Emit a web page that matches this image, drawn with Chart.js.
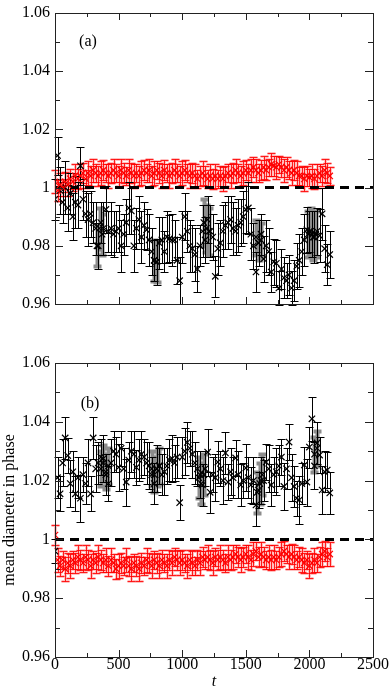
<!DOCTYPE html>
<html>
<head>
<meta charset="utf-8">
<script src="https://cdn.jsdelivr.net/npm/chart.js@4/dist/chart.umd.min.js"></script>
<style>
  body { margin: 0; background: #fff; }
  .panel { position: absolute; left: 0; }
</style>
</head>
<body>
<canvas id="panelA" class="panel" width="392" height="317" style="top:0"></canvas>
<canvas id="panelB" class="panel" width="392" height="360" style="top:330px"></canvas>
<script>
// time axis shared by all series
const times = [
  0, 20, 40, 60, 80, 100, 120, 140, 160, 180,
  200, 220, 240, 260, 280, 300, 320, 340, 360, 380,
  400, 420, 440, 460, 480, 500, 520, 540, 560, 580,
  600, 620, 640, 660, 680, 700, 720, 740, 760, 780,
  800, 820, 840, 860, 880, 900, 920, 940, 960, 980,
  1000, 1020, 1040, 1060, 1080, 1100, 1120, 1140, 1160, 1180,
  1200, 1220, 1240, 1260, 1280, 1300, 1320, 1340, 1360, 1380,
  1400, 1420, 1440, 1460, 1480, 1500, 1520, 1540, 1560, 1580,
  1600, 1620, 1640, 1660, 1680, 1700, 1720, 1740, 1760, 1780,
  1800, 1820, 1840, 1860, 1880, 1900, 1920, 1940, 1960, 1980,
  2000, 2020, 2040, 2060, 2080, 2100, 2120, 2140, 2160
];

// panel (a) black
const blackA = [
  0.996, 1.011, 0.999, 0.995, 1.000, 0.993, 0.998, 0.990, 0.995, 0.994,
  1.0075, 0.996, 0.991, 0.989, 0.991, 0.988, 0.986, 0.980, 0.988, 0.986,
  0.9925, 0.985, 0.986, 0.984, 0.985, 0.986, 0.980, 0.984, 0.988, 0.993,
  0.992, 0.980, 0.986, 0.989, 0.983, 0.987, 0.9855, 0.982, 0.978, 0.975,
  0.9745, 0.981, 0.982, 0.978, 0.983, 0.9825, 0.982, 0.982, 0.975, 0.968,
  0.983, 0.990, 0.985, 0.980, 0.979, 0.977, 0.972, 0.980, 0.985, 0.982,
  0.989, 0.985, 0.983, 0.9695, 0.979, 0.981, 0.985, 0.987, 0.988, 0.989,
  0.986, 0.985, 0.987, 0.988, 0.990, 0.9925, 0.993, 0.984, 0.980, 0.971,
  0.981, 0.984, 0.9755, 0.980, 0.978, 0.971, 0.9745, 0.974, 0.9655, 0.972,
  0.969, 0.968, 0.970, 0.9655, 0.968, 0.973, 0.975, 0.978, 0.982, 0.9855,
  0.985, 0.984, 0.983, 0.985, 0.9835, 0.991, 0.979, 0.9735, 0.977
];
const blackAErr = [
  0.007, 0.0065, 0.008, 0.007, 0.009, 0.008, 0.007, 0.008, 0.009, 0.008,
  0.0065, 0.007, 0.008, 0.009, 0.008, 0.007, 0.009, 0.008, 0.007, 0.009,
  0.008, 0.007, 0.009, 0.008, 0.007, 0.008, 0.009, 0.007, 0.008, 0.009,
  0.008, 0.009, 0.007, 0.008, 0.009, 0.008, 0.007, 0.009, 0.008, 0.007,
  0.008, 0.009, 0.008, 0.007, 0.009, 0.008, 0.009, 0.007, 0.008, 0.008,
  0.009, 0.008, 0.007, 0.009, 0.008, 0.009, 0.008, 0.007, 0.009, 0.008,
  0.008, 0.009, 0.008, 0.007, 0.009, 0.008, 0.009, 0.008, 0.009, 0.008,
  0.009, 0.008, 0.009, 0.008, 0.009, 0.008, 0.009, 0.009, 0.008, 0.007,
  0.008, 0.007, 0.008, 0.009, 0.008, 0.007, 0.008, 0.008, 0.006, 0.007,
  0.007, 0.006, 0.007, 0.006, 0.007, 0.008, 0.009, 0.008, 0.009, 0.008,
  0.007, 0.008, 0.009, 0.008, 0.009, 0.009, 0.008, 0.007, 0.008
];
// panel (a) red
const redA = [
  1.002, 0.999, 1.001, 1.000, 1.002, 1.001, 1.003, 1.002, 1.004, 1.003,
  1.004, 1.005, 1.003, 1.005, 1.004, 1.006, 1.005, 1.004, 1.005, 1.006,
  1.005, 1.004, 1.005, 1.006, 1.005, 1.004, 1.006, 1.005, 1.004, 1.006,
  1.005, 1.004, 1.005, 1.004, 1.005, 1.006, 1.005, 1.006, 1.004, 1.005,
  1.006, 1.005, 1.004, 1.006, 1.005, 1.004, 1.005, 1.006, 1.005, 1.004,
  1.005, 1.006, 1.005, 1.004, 1.005, 1.004, 1.003, 1.004, 1.005, 1.004,
  1.003, 1.004, 1.003, 1.004, 1.003, 1.004, 1.003, 1.004, 1.005, 1.004,
  1.005, 1.006, 1.005, 1.004, 1.005, 1.006, 1.005, 1.006, 1.007, 1.006,
  1.005, 1.006, 1.007, 1.006, 1.007, 1.008, 1.0075, 1.007, 1.008, 1.007,
  1.006, 1.007, 1.006, 1.005, 1.006, 1.005, 1.004, 1.004, 1.003, 1.004,
  1.0035, 1.004, 1.003, 1.004, 1.005, 1.004, 1.006, 1.005, 1.004
];
const redAErr = [
  0.004, 0.0035, 0.004, 0.003, 0.0035, 0.004, 0.0035, 0.003, 0.004, 0.0035,
  0.004, 0.0035, 0.003, 0.004, 0.0035, 0.004, 0.003, 0.0035, 0.004, 0.0035,
  0.003, 0.004, 0.0035, 0.004, 0.003, 0.0035, 0.004, 0.0035, 0.003, 0.004,
  0.0035, 0.004, 0.003, 0.0035, 0.004, 0.0035, 0.003, 0.004, 0.0035, 0.004,
  0.003, 0.0035, 0.004, 0.0035, 0.003, 0.004, 0.0035, 0.004, 0.003, 0.0035,
  0.004, 0.0035, 0.003, 0.004, 0.0035, 0.004, 0.003, 0.0035, 0.004, 0.0035,
  0.003, 0.004, 0.0035, 0.004, 0.003, 0.0035, 0.004, 0.0035, 0.003, 0.004,
  0.0035, 0.004, 0.003, 0.0035, 0.004, 0.0035, 0.003, 0.004, 0.0035, 0.004,
  0.003, 0.0035, 0.004, 0.0035, 0.003, 0.004, 0.0035, 0.004, 0.003, 0.0035,
  0.004, 0.0035, 0.003, 0.004, 0.0035, 0.004, 0.003, 0.0035, 0.004, 0.0035,
  0.003, 0.004, 0.0035, 0.004, 0.003, 0.0035, 0.004, 0.0035, 0.003
];
// panel (a) points with grey error bars
const greyATimes = [330, 350, 370, 780, 800, 1170, 1190, 1210, 1580, 1600, 1620, 1990, 2010, 2030, 2050];
const greyA = [0.980, 0.986, 0.984, 0.975, 0.9745, 0.988, 0.986, 0.985, 0.983, 0.981, 0.982, 0.984, 0.985, 0.983, 0.984];
const greyAErr = [0.007, 0.007, 0.007, 0.007, 0.007, 0.008, 0.008, 0.008, 0.006, 0.006, 0.006, 0.008, 0.008, 0.008, 0.008];

// panel (b) black
const blackB = [
  0.996, 1.021, 1.0155, 1.026, 1.0345, 1.0285, 1.019, 1.023, 1.0155, 1.021,
  1.014, 1.022, 1.019, 1.026, 1.0155, 1.0345, 1.024, 1.026, 1.028, 1.0275,
  1.022, 1.019, 1.026, 1.030, 1.029, 1.0245, 1.031, 1.024, 1.0195, 1.027,
  1.030, 1.029, 1.0245, 1.027, 1.029, 1.028, 1.026, 1.025, 1.022, 1.019,
  1.024, 1.025, 1.022, 1.023, 1.025, 1.027, 1.0275, 1.026, 1.028, 1.0125,
  1.028, 1.030, 1.033, 1.031, 1.029, 1.026, 1.024, 1.022, 1.0185, 1.024,
  1.0297, 1.016, 1.022, 1.021, 1.0263, 1.024, 1.020, 1.0294, 1.0195, 1.023,
  1.021, 1.0277, 1.022, 1.0185, 1.020, 1.0243, 1.021, 1.0185, 1.020, 1.0117,
  1.0168, 1.020, 1.020, 1.0263, 1.024, 1.0185, 1.022, 1.023, 1.025, 1.028,
  1.018, 1.024, 1.0331, 1.021, 1.018, 1.014, 1.0134, 1.019, 1.0253, 1.0195,
  1.0314, 1.041, 1.025, 1.0328, 1.0287, 1.0168, 1.023, 1.0236, 1.0158
];
const blackBErr = [
  0.004, 0.007, 0.006, 0.008, 0.007, 0.006, 0.008, 0.007, 0.006, 0.007,
  0.008, 0.006, 0.007, 0.008, 0.006, 0.007, 0.008, 0.007, 0.006, 0.008,
  0.007, 0.006, 0.008, 0.007, 0.006, 0.008, 0.006, 0.007, 0.008, 0.006,
  0.007, 0.008, 0.006, 0.007, 0.008, 0.006, 0.007, 0.008, 0.006, 0.007,
  0.008, 0.006, 0.007, 0.008, 0.006, 0.007, 0.008, 0.006, 0.007, 0.006,
  0.007, 0.008, 0.007, 0.006, 0.008, 0.007, 0.006, 0.008, 0.007, 0.006,
  0.008, 0.007, 0.006, 0.008, 0.007, 0.006, 0.008, 0.007, 0.006, 0.008,
  0.007, 0.006, 0.008, 0.007, 0.006, 0.008, 0.007, 0.006, 0.008, 0.007,
  0.006, 0.008, 0.007, 0.006, 0.008, 0.007, 0.006, 0.008, 0.007, 0.006,
  0.008, 0.007, 0.006, 0.008, 0.007, 0.006, 0.008, 0.007, 0.006, 0.008,
  0.007, 0.0075, 0.008, 0.007, 0.006, 0.008, 0.007, 0.006, 0.007
];
// panel (b) red
const redB = [
  1.0015, 0.993, 0.991, 0.993, 0.990, 0.992, 0.991, 0.993, 0.992, 0.994,
  0.993, 0.992, 0.994, 0.993, 0.991, 0.993, 0.992, 0.994, 0.993, 0.992,
  0.993, 0.991, 0.993, 0.992, 0.990, 0.991, 0.992, 0.991, 0.993, 0.991,
  0.990, 0.992, 0.991, 0.990, 0.992, 0.991, 0.993, 0.992, 0.991, 0.993,
  0.992, 0.991, 0.993, 0.992, 0.991, 0.993, 0.992, 0.994, 0.993, 0.992,
  0.993, 0.992, 0.991, 0.993, 0.992, 0.991, 0.993, 0.992, 0.994, 0.993,
  0.994, 0.993, 0.992, 0.994, 0.993, 0.994, 0.993, 0.992, 0.994, 0.993,
  0.994, 0.995, 0.994, 0.993, 0.994, 0.995, 0.994, 0.993, 0.995, 0.996,
  0.994, 0.995, 0.994, 0.993, 0.994, 0.993, 0.994, 0.993, 0.994, 0.995,
  0.996, 0.995, 0.994, 0.995, 0.994, 0.993, 0.994, 0.993, 0.992, 0.993,
  0.991, 0.992, 0.993, 0.992, 0.994, 0.995, 0.996, 0.994, 0.995
];
const redBErr = [
  0.0035, 0.004, 0.0035, 0.003, 0.004, 0.0035, 0.004, 0.003, 0.0035, 0.004,
  0.0035, 0.003, 0.004, 0.0035, 0.004, 0.003, 0.0035, 0.004, 0.0035, 0.003,
  0.004, 0.0035, 0.004, 0.003, 0.0035, 0.004, 0.0035, 0.003, 0.004, 0.0035,
  0.004, 0.003, 0.0035, 0.004, 0.0035, 0.003, 0.004, 0.0035, 0.004, 0.003,
  0.0035, 0.004, 0.0035, 0.003, 0.004, 0.0035, 0.004, 0.003, 0.0035, 0.004,
  0.0035, 0.003, 0.004, 0.0035, 0.004, 0.003, 0.0035, 0.004, 0.0035, 0.003,
  0.004, 0.0035, 0.004, 0.003, 0.0035, 0.004, 0.0035, 0.003, 0.004, 0.0035,
  0.004, 0.003, 0.0035, 0.004, 0.0035, 0.003, 0.004, 0.0035, 0.004, 0.003,
  0.0035, 0.004, 0.0035, 0.003, 0.004, 0.0035, 0.004, 0.003, 0.0035, 0.004,
  0.0035, 0.003, 0.004, 0.0035, 0.004, 0.003, 0.0035, 0.004, 0.0035, 0.003,
  0.004, 0.0035, 0.004, 0.003, 0.0035, 0.004, 0.0035, 0.003, 0.004
];
// panel (b) points with grey error bars
const greyBTimes = [360, 380, 400, 420, 760, 780, 800, 820, 1130, 1150, 1170, 1590, 1610, 1630, 2040, 2060];
const greyB = [1.024, 1.026, 1.023, 1.025, 1.024, 1.022, 1.024, 1.025, 1.021, 1.019, 1.022, 1.016, 1.019, 1.022, 1.029, 1.031];
const greyBErr = [0.006, 0.006, 0.006, 0.006, 0.006, 0.006, 0.006, 0.006, 0.007, 0.007, 0.007, 0.007, 0.007, 0.007, 0.006, 0.006];

// axis ticks and the reference line
const xTicks = [0, 500, 1000, 1500, 2000, 2500];
const yTicks = [0.96, 0.98, 1, 1.02, 1.04, 1.06];
const refX = [0, 2500];
const refY = [1, 1];

const SERIF = "'Liberation Serif', 'DejaVu Serif', serif";
const toPoints = (xs, ys) => xs.map((x, i) => ({ x, y: ys[i] }));

// error bars drawn under the markers
const errorBars = {
  id: 'errorBars',
  beforeDatasetsDraw(chart) {
    const { ctx, scales: { x, y } } = chart;
    ctx.save();
    chart.data.datasets.forEach(ds => {
      if (!ds.errors) return;
      const passes = ds.underColor ? [[ds.underColor, 3], [ds.barColor, 1]] : [[ds.barColor, ds.barWidth || 1]];
      passes.forEach(([color, w]) => {
        ctx.strokeStyle = color;
        ctx.lineWidth = w;
        ctx.beginPath();
        ds.data.forEach((p, i) => {
          const px = Math.round(x.getPixelForValue(p.x)) + 0.5;
          const top = Math.round(y.getPixelForValue(p.y + ds.errors[i])) + 0.5;
          const bot = Math.round(y.getPixelForValue(p.y - ds.errors[i])) + 0.5;
          ctx.moveTo(px, top); ctx.lineTo(px, bot);
          ctx.moveTo(px - 4, top); ctx.lineTo(px + 4, top);
          ctx.moveTo(px - 4, bot); ctx.lineTo(px + 4, bot);
        });
        ctx.stroke();
      });
    });
    ctx.restore();
  }
};

// frame, inward ticks on all four sides, panel letter
const frame = {
  id: 'frame',
  afterDraw(chart) {
    const { ctx, chartArea: a, scales: { x, y } } = chart;
    const opts = chart.options.plugins.frame;
    ctx.save();
    ctx.strokeStyle = '#222';
    ctx.lineWidth = 1;
    ctx.strokeRect(Math.round(a.left) + 0.5, Math.round(a.top) + 0.5, Math.round(a.right - a.left), Math.round(a.bottom - a.top));
    ctx.beginPath();
    const xt = (v, len) => {
      const px = Math.round(x.getPixelForValue(v)) + 0.5;
      ctx.moveTo(px, a.bottom); ctx.lineTo(px, a.bottom - len);
      ctx.moveTo(px, a.top); ctx.lineTo(px, a.top + len);
    };
    const yt = (v, len) => {
      const py = Math.round(y.getPixelForValue(v)) + 0.5;
      ctx.moveTo(a.left, py); ctx.lineTo(a.left + len, py);
      ctx.moveTo(a.right, py); ctx.lineTo(a.right - len, py);
    };
    xTicks.forEach((v, i) => {
      xt(v, 7);
      if (i < xTicks.length - 1) xt((v + xTicks[i + 1]) / 2, 4);
    });
    yTicks.forEach((v, i) => {
      yt(v, 8);
      if (i < yTicks.length - 1) yt((v + yTicks[i + 1]) / 2, 5);
    });
    ctx.stroke();
    ctx.fillStyle = '#000';
    ctx.font = '16px ' + SERIF;
    ctx.textAlign = 'center';
    ctx.textBaseline = 'middle';
    ctx.fillText(opts.label, a.left + opts.dx, a.top + opts.dy);
    ctx.restore();
  }
};

function makeChart(id, black, blackErr, red, redErr, greyT, grey, greyErr, opts) {
  const marker = { type: 'scatter', pointStyle: 'crossRot', pointRadius: 4.5, pointBorderWidth: 1.2, showLine: false };
  return new Chart(document.getElementById(id), {
    type: 'scatter',
    data: {
      datasets: [
        { ...marker, data: toPoints(times, red), errors: redErr, barColor: 'rgba(255,0,0,0.85)', underColor: 'rgba(255,140,140,0.55)', borderColor: '#ff0000', backgroundColor: '#ff0000' },
        { ...marker, data: toPoints(greyT, grey), errors: greyErr, barColor: '#8c8c8c', barWidth: 4, borderColor: '#000', backgroundColor: '#000' },
        { ...marker, data: toPoints(times, black), errors: blackErr, barColor: '#000', borderColor: '#000', backgroundColor: '#000' },
        { type: 'line', data: toPoints(refX, refY), borderColor: '#000', borderWidth: 3, borderDash: [9, 6], pointRadius: 0, fill: false }
      ]
    },
    options: {
      responsive: false,
      animation: false,
      layout: { padding: { top: opts.top, right: 19, left: 0, bottom: 0 } },
      plugins: { legend: { display: false }, tooltip: { enabled: false }, frame: opts.frame },
      scales: {
        x: {
          type: 'linear', min: 0, max: 2500,
          grid: { display: false, drawTicks: false }, border: { display: false },
          afterBuildTicks: s => { s.ticks = xTicks.map(v => ({ value: v })); },
          afterFit: s => { s.height = opts.xHeight; },
          ticks: { display: opts.xLabels, autoSkip: false, padding: 0, color: '#000', font: { family: SERIF, size: 16, lineHeight: 1 }, callback: v => String(v) },
          title: { display: opts.xLabels, text: 't', color: '#000', padding: 0, font: { family: SERIF, size: 16, style: 'italic', lineHeight: 1 } }
        },
        y: {
          min: 0.96, max: 1.06,
          grid: { display: false, drawTicks: false }, border: { display: false },
          afterBuildTicks: s => { s.ticks = yTicks.map(v => ({ value: v })); },
          afterFit: s => { s.width = 55; },
          ticks: { padding: 5, color: '#000', font: { family: SERIF, size: 16, lineHeight: 1 }, callback: v => String(+v.toFixed(2)) },
          title: { display: opts.yTitle, text: 'mean diameter in phase', color: '#000', padding: 0, font: { family: SERIF, size: 16, lineHeight: 1.2 } }
        }
      }
    },
    plugins: [errorBars, frame]
  });
}

makeChart('panelA', blackA, blackAErr, redA, redAErr, greyATimes, greyA, greyAErr,
  { top: 8, xHeight: 8, xLabels: false, yTitle: false, frame: { label: '(a)', dx: 33, dy: 29 } });
makeChart('panelB', blackB, blackBErr, redB, redBErr, greyBTimes, greyB, greyBErr,
  { top: 33, xHeight: 33, xLabels: true, yTitle: true, frame: { label: '(b)', dx: 35, dy: 41 } });
</script>
</body>
</html>
